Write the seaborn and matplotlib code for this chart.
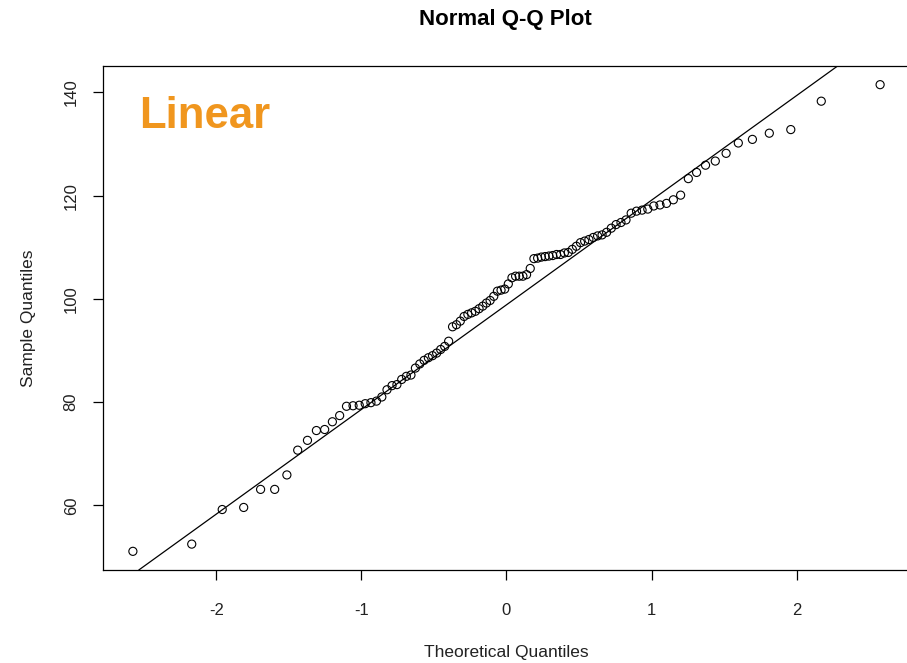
import numpy as np
import pandas as pd
import matplotlib
matplotlib.use("Agg")
import matplotlib.pyplot as plt
import seaborn as sns

# Theoretical normal quantiles (n = 100)
theoretical = [
    -2.5758, -2.1701, -1.9600, -1.8119, -1.6954, -1.5982, -1.5141, -1.4395, -1.3722, -1.3106,
    -1.2536, -1.2004, -1.1503, -1.1031, -1.0581, -1.0152, -0.9741, -0.9346, -0.8965, -0.8596,
    -0.8239, -0.7892, -0.7554, -0.7225, -0.6903, -0.6588, -0.6280, -0.5978, -0.5681, -0.5388,
    -0.5101, -0.4817, -0.4538, -0.4261, -0.3989, -0.3719, -0.3451, -0.3186, -0.2924, -0.2663,
    -0.2404, -0.2147, -0.1891, -0.1637, -0.1383, -0.1130, -0.0878, -0.0627, -0.0376, -0.0125,
    0.0125, 0.0376, 0.0627, 0.0878, 0.1130, 0.1383, 0.1637, 0.1891, 0.2147, 0.2404,
    0.2663, 0.2924, 0.3186, 0.3451, 0.3719, 0.3989, 0.4261, 0.4538, 0.4817, 0.5101,
    0.5388, 0.5681, 0.5978, 0.6280, 0.6588, 0.6903, 0.7225, 0.7554, 0.7892, 0.8239,
    0.8596, 0.8965, 0.9346, 0.9741, 1.0152, 1.0581, 1.1031, 1.1503, 1.2004, 1.2536,
    1.3106, 1.3722, 1.4395, 1.5141, 1.5982, 1.6954, 1.8119, 1.9600, 2.1701, 2.5758,
]

# Sorted sample values
sample = [
    51.1, 52.5, 59.2, 59.6, 63.1, 63.1, 65.9, 70.7, 72.6, 74.5,
    74.7, 76.2, 77.4, 79.2, 79.3, 79.4, 79.7, 79.9, 80.2, 81.0,
    82.4, 83.2, 83.4, 84.4, 85.0, 85.25, 86.6, 87.4, 88.1, 88.6,
    89.0, 89.5, 90.2, 90.8, 91.8, 94.6, 95.0, 95.7, 96.6, 97.0,
    97.3, 97.6, 98.1, 98.6, 99.2, 99.7, 100.5, 101.5, 101.7, 101.9,
    102.9, 104.1, 104.4, 104.4, 104.4, 104.7, 105.9, 107.8, 107.9, 108.1,
    108.2, 108.3, 108.4, 108.6, 108.6, 108.9, 109.0, 109.6, 110.2, 110.9,
    111.2, 111.5, 111.9, 112.2, 112.4, 112.9, 113.7, 114.4, 114.8, 115.3,
    116.6, 117.0, 117.2, 117.4, 118.0, 118.2, 118.5, 119.2, 120.1, 123.3,
    124.5, 125.9, 126.7, 128.2, 130.2, 130.9, 132.1, 132.8, 138.3, 141.5,
]

x_ticks = [-2, -1, 0, 1, 2]
y_ticks = [60, 80, 100, 120, 140]

title = "Normal Q-Q Plot"
x_label = "Theoretical Quantiles"
y_label = "Sample Quantiles"
annotation = "Linear"

sns.set_theme(style="white")
plt.rcParams["font.family"] = ["Liberation Sans", "DejaVu Sans"]

df = pd.DataFrame({"theoretical": theoretical, "sample": sample})

fig = plt.figure(figsize=(9.07, 6.63), dpi=100)
W, H = 907, 663
left, right, top, bottom = 103, 910, 66, 570
ax = fig.add_axes([left / W, 1 - bottom / H, (right - left) / W, (bottom - top) / H])

sns.scatterplot(data=df, x="theoretical", y="sample", ax=ax,
                facecolor="none", edgecolor="black", linewidth=0.8, s=34, marker="o")

# qqline through the quartiles
q1, q3 = np.percentile(df["sample"], [25, 75])
z = 0.6745
slope = (q3 - q1) / (2 * z)
intercept = q1 + z * slope
ax.axline((0, intercept), slope=slope, color="black", linewidth=0.9)

xr = max(theoretical) - min(theoretical)
yr = max(sample) - min(sample)
ax.set_xlim(min(theoretical) - 0.04 * xr, max(theoretical) + 0.04 * xr)
ax.set_ylim(min(sample) - 0.04 * yr, max(sample) + 0.04 * yr)

ax.set_xticks(x_ticks)
ax.set_xticklabels(["-2", "-1", "0", "1", "2"])
ax.set_yticks(y_ticks)
ax.set_yticklabels([str(v) for v in y_ticks], rotation=90, va="center")
ax.tick_params(axis="both", which="major", direction="out", length=7.5, width=0.9,
               color="black", labelsize=12, labelcolor="#222222",
               bottom=True, left=True)
ax.tick_params(axis="x", pad=16)
ax.tick_params(axis="y", pad=10)

for sp in ax.spines.values():
    sp.set_color("black")
    sp.set_linewidth(0.9)

ax.set_xlabel(x_label, fontsize=12.5, color="#222222", labelpad=20)
ax.set_ylabel(y_label, fontsize=12.5, color="#222222", labelpad=20)

fig.text(0.5 * (left + 907) / W, 1 - 20 / H, title, ha="center", va="center",
         fontsize=16, fontweight="bold", color="black")

ax.text(0.045, 0.90, annotation, transform=ax.transAxes, ha="left", va="center",
        fontsize=31.5, fontweight="bold", color="#F0961E")

fig.savefig("out.png", dpi=100)
